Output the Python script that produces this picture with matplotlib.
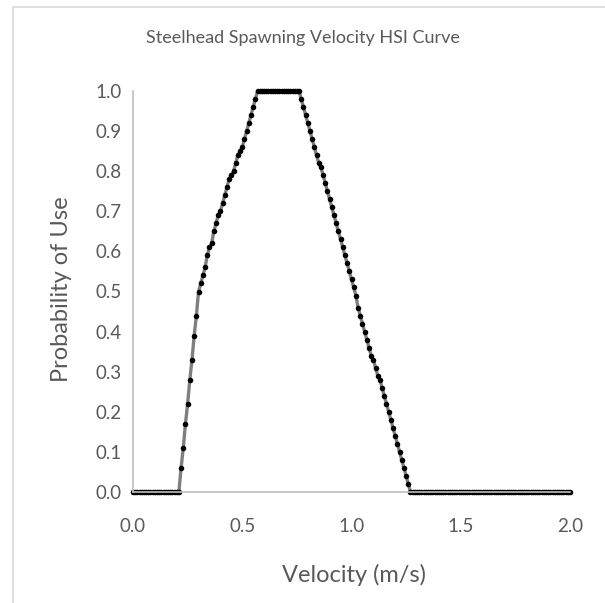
import numpy as np
import matplotlib
matplotlib.use("Agg")
import matplotlib.pyplot as plt
from matplotlib.patches import Rectangle

plt.rcParams['font.family'] = ['Lato', 'DejaVu Sans']

# velocity (m/s), sampled every 0.01
velocity = np.round(np.arange(0, 201) * 0.01, 2)

# probability of use
prob_use = (
    [0.0] * 22 +                                                      # 0.00 - 0.21
    [0.06, 0.11, 0.17, 0.22, 0.28, 0.33, 0.39, 0.44, 0.50] +          # 0.22 - 0.30
    [0.52, 0.54, 0.56, 0.59, 0.61, 0.62, 0.65, 0.67, 0.69, 0.70,
     0.72, 0.74, 0.76, 0.78, 0.79, 0.80, 0.82, 0.84, 0.85, 0.86,
     0.88, 0.90, 0.92, 0.94, 0.96, 0.98] +                            # 0.31 - 0.56
    [1.0] * 20 +                                                      # 0.57 - 0.76
    [0.98, 0.96, 0.94, 0.92, 0.90, 0.88, 0.86, 0.84, 0.82, 0.81,
     0.79, 0.77, 0.75, 0.73, 0.71, 0.69, 0.67, 0.65, 0.63, 0.61,
     0.59, 0.57, 0.55, 0.53, 0.51, 0.49, 0.46, 0.44, 0.42, 0.40,
     0.38, 0.36, 0.34, 0.33, 0.31, 0.29, 0.28, 0.26, 0.24, 0.22,
     0.20, 0.18, 0.16, 0.14, 0.12, 0.10, 0.08, 0.06, 0.04, 0.02] +    # 0.77 - 1.26
    [0.0] * 74                                                        # 1.27 - 2.00
)

x_ticks = [0.0, 0.5, 1.0, 1.5, 2.0]
y_ticks = [0.0, 0.1, 0.2, 0.3, 0.4, 0.5, 0.6, 0.7, 0.8, 0.9, 1.0]

text_col = '#595959'

fig = plt.figure(figsize=(6.05, 6.03), dpi=100)
fig.patches.append(Rectangle((13 / 605, -0.1), 1.2, 1 - 7 / 603 + 0.1,
                             transform=fig.transFigure, fill=False,
                             edgecolor='#d9d9d9', linewidth=1.2))

ax = fig.add_axes([133 / 605, 1 - 492 / 603, 437 / 605, 401 / 603])
ax.plot(velocity, prob_use, color='#7f7f7f', linewidth=2.4,
        marker='o', markersize=4, markerfacecolor='black',
        markeredgecolor='black', markeredgewidth=0, clip_on=False)

ax.set_xlim(0, 2.0)
ax.set_ylim(0, 1.0)
ax.set_xticks(x_ticks)
ax.set_yticks(y_ticks)
ax.set_xticklabels(['%.1f' % v for v in x_ticks])
ax.set_yticklabels(['%.1f' % v for v in y_ticks])
ax.tick_params(length=0, labelsize=13.5, colors=text_col)
ax.tick_params(axis='y', pad=8)
ax.tick_params(axis='x', pad=19)

for s in ['top', 'right']:
    ax.spines[s].set_visible(False)
ax.spines['left'].set_color('#bfbfbf')
ax.spines['bottom'].set_color('#bfbfbf')
ax.spines['left'].set_linewidth(1.2)
ax.spines['bottom'].set_linewidth(1.2)

fig.text(0.5, 1 - 38 / 603, 'Steelhead Spawning Velocity HSI Curve',
         ha='center', va='center', fontsize=13, color=text_col)
fig.text(354 / 605, 1 - 575 / 603, 'Velocity (m/s)',
         ha='center', va='center', fontsize=17, color=text_col)
fig.text(62 / 605, 1 - 289 / 603, 'Probability of Use', rotation=90,
         ha='center', va='center', fontsize=17, color=text_col)

fig.savefig('out.png', dpi=100)
